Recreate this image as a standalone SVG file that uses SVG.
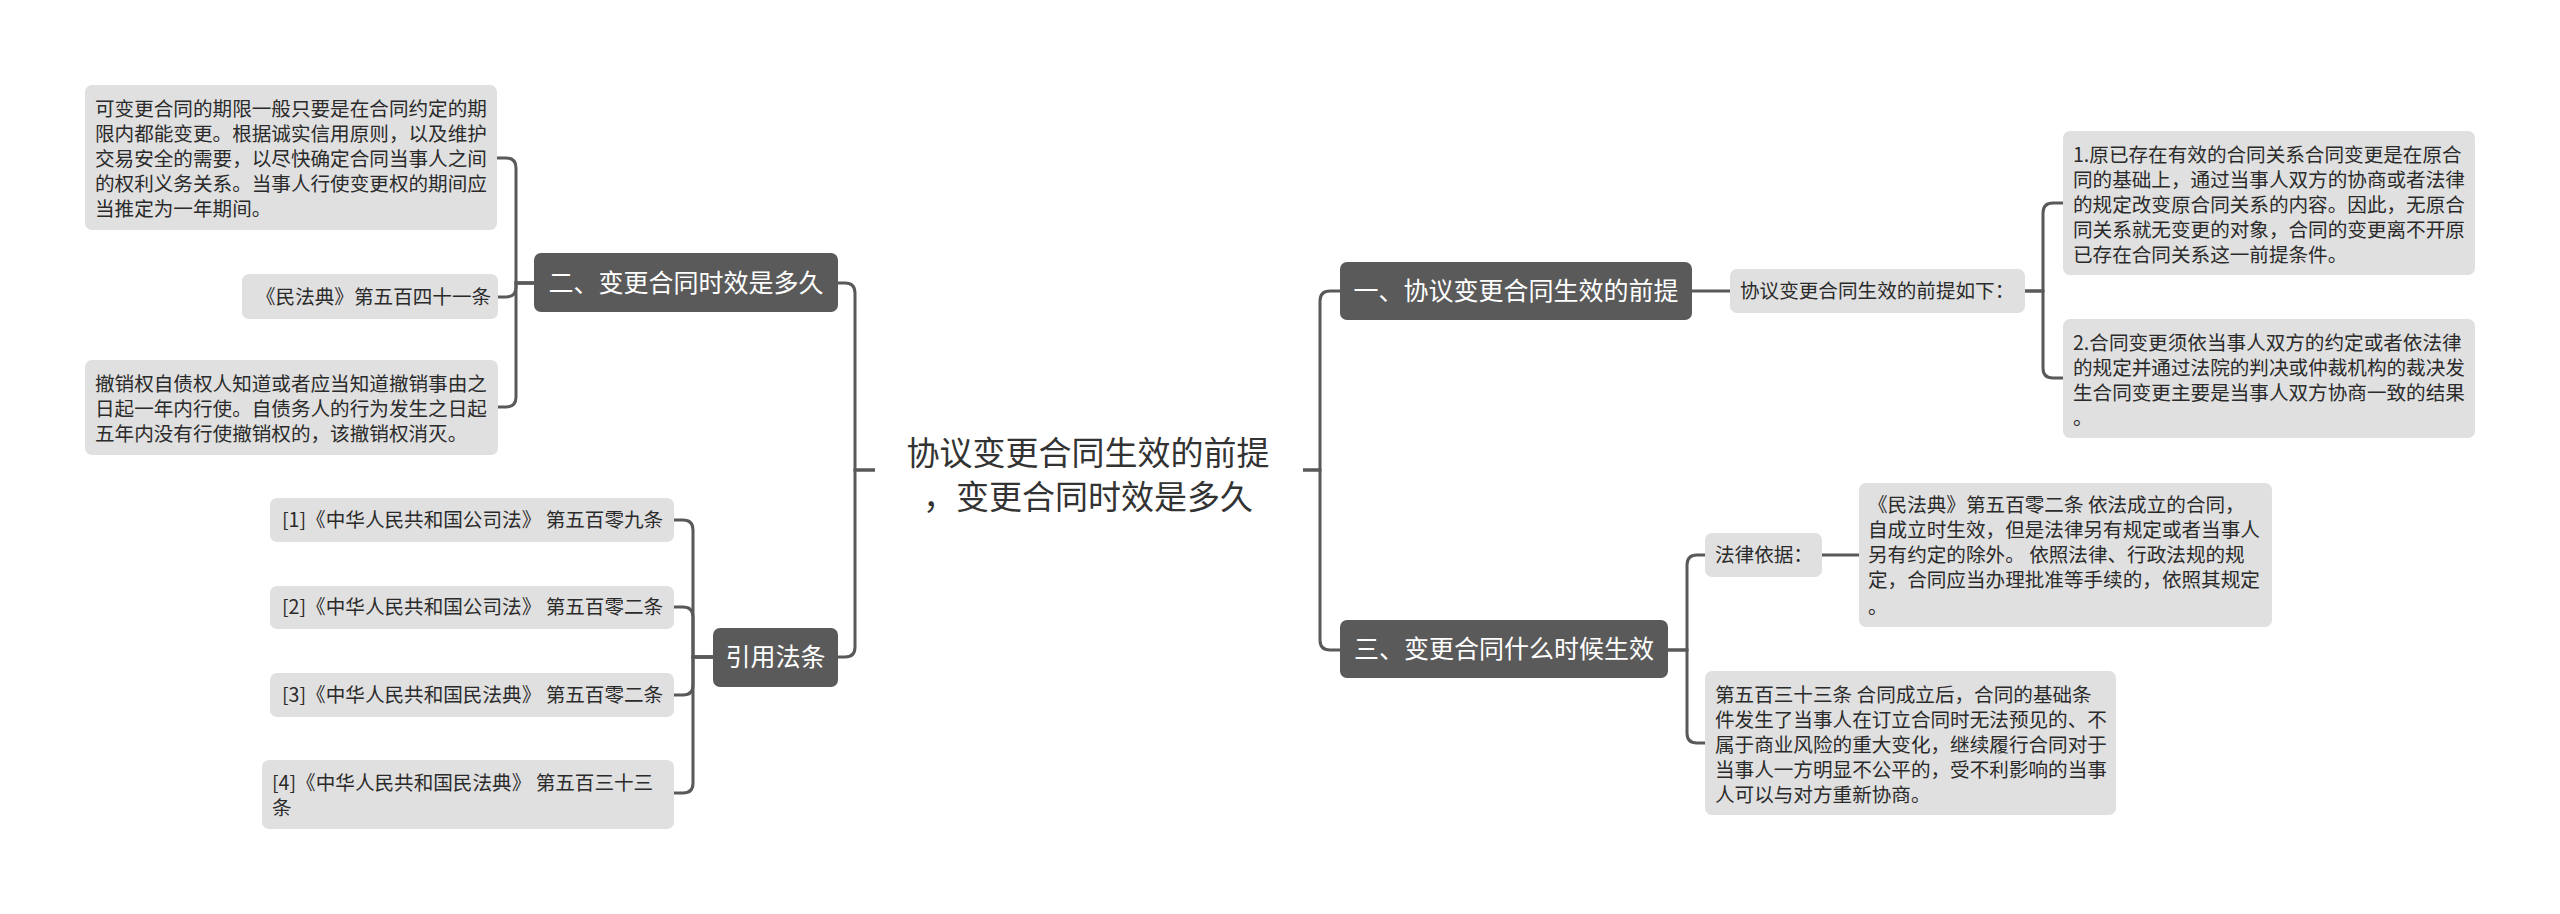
<svg xmlns="http://www.w3.org/2000/svg" width="2560" height="914" viewBox="0 0 2560 914">
<style>
.dark{fill:#5a5a5a}
.leaf{fill:#e0e0e0}
.t{font-family:"Noto Sans CJK SC","Noto Sans",sans-serif;font-size:19.6px;fill:#2b2b2b}
.w{font-family:"Noto Sans CJK SC","Noto Sans",sans-serif;font-size:25px;fill:#ffffff;text-anchor:middle}
.root{font-family:"Noto Sans CJK SC","Noto Sans",sans-serif;font-size:33px;fill:#333333;text-anchor:middle}
.c{fill:none;stroke:#595959;stroke-width:3}
</style>
<rect width="2560" height="914" fill="#ffffff"/>
<g id="connectors">
<path class="c" d="M875,470 H855 V293 Q855,283 845,283 H838"/>
<path class="c" d="M875,470 H855 V647 Q855,657 845,657 H838"/>
<path class="c" d="M534,283 H516 V168 Q516,158 506,158 H497"/>
<path class="c" d="M534,283 H516 V287 Q516,297 506,297 H498"/>
<path class="c" d="M534,283 H516 V397 Q516,407 506,407 H498"/>
<path class="c" d="M713,657 H693 V530 Q693,520 683,520 H674"/>
<path class="c" d="M713,657 H693 V617 Q693,607 683,607 H674"/>
<path class="c" d="M713,657 H693 V685 Q693,695 683,695 H674"/>
<path class="c" d="M713,657 H693 V783 Q693,793 683,793 H674"/>
<path class="c" d="M1303,470 H1320 V301 Q1320,291 1330,291 H1340"/>
<path class="c" d="M1303,470 H1320 V640 Q1320,650 1330,650 H1340"/>
<path class="c" d="M1692,291 H1730"/>
<path class="c" d="M2025,291 H2043 V213 Q2043,203 2053,203 H2063"/>
<path class="c" d="M2025,291 H2043 V368 Q2043,378 2053,378 H2063"/>
<path class="c" d="M1668,650 H1687 V565 Q1687,555 1697,555 H1705"/>
<path class="c" d="M1668,650 H1687 V733 Q1687,743 1697,743 H1705"/>
<path class="c" d="M1822,555 H1859"/>
</g>
<g id="root">
<text class="root" x="1088" y="465">协议变更合同生效的前提</text>
<text class="root" x="1088" y="509">，变更合同时效是多久</text>
</g>
<g id="n2">
<rect class="dark" x="534" y="253" width="304" height="59" rx="7"/>
<text class="w" x="686" y="292">二、变更合同时效是多久</text>
</g>
<g id="n2a">
<rect class="leaf" x="85" y="85" width="412" height="145" rx="7"/>
<text class="t" x="95" y="116">可变更合同的期限一般只要是在合同约定的期</text>
<text class="t" x="95" y="141">限内都能变更。根据诚实信用原则，以及维护</text>
<text class="t" x="95" y="166">交易安全的需要，以尽快确定合同当事人之间</text>
<text class="t" x="95" y="191">的权利义务关系。当事人行使变更权的期间应</text>
<text class="t" x="95" y="216">当推定为一年期间。</text>
</g>
<g id="n2b">
<rect class="leaf" x="242" y="274" width="256" height="45" rx="7"/>
<text class="t" x="256" y="304">《民法典》第五百四十一条</text>
</g>
<g id="n2c">
<rect class="leaf" x="85" y="360" width="413" height="95" rx="7"/>
<text class="t" x="95" y="391">撤销权自债权人知道或者应当知道撤销事由之</text>
<text class="t" x="95" y="416">日起一年内行使。自债务人的行为发生之日起</text>
<text class="t" x="95" y="441">五年内没有行使撤销权的，该撤销权消灭。</text>
</g>
<g id="nref">
<rect class="dark" x="713" y="628" width="125" height="59" rx="7"/>
<text class="w" x="775.5" y="666">引用法条</text>
</g>
<g id="ref1">
<rect class="leaf" x="270" y="498" width="404" height="44" rx="7"/>
<text class="t" x="282" y="527">[1]《中华人民共和国公司法》 第五百零九条</text>
</g>
<g id="ref2">
<rect class="leaf" x="270" y="586" width="404" height="43" rx="7"/>
<text class="t" x="282" y="614">[2]《中华人民共和国公司法》 第五百零二条</text>
</g>
<g id="ref3">
<rect class="leaf" x="270" y="673" width="404" height="44" rx="7"/>
<text class="t" x="282" y="702">[3]《中华人民共和国民法典》 第五百零二条</text>
</g>
<g id="ref4">
<rect class="leaf" x="262" y="760" width="412" height="69" rx="7"/>
<text class="t" x="272" y="790">[4]《中华人民共和国民法典》 第五百三十三</text>
<text class="t" x="272" y="815">条</text>
</g>
<g id="n1">
<rect class="dark" x="1340" y="262" width="352" height="58" rx="7"/>
<text class="w" x="1516" y="300">一、协议变更合同生效的前提</text>
</g>
<g id="n1a">
<rect class="leaf" x="1730" y="269" width="295" height="44" rx="7"/>
<text class="t" x="1740" y="298">协议变更合同生效的前提如下：</text>
</g>
<g id="n1b">
<rect class="leaf" x="2063" y="131" width="412" height="144" rx="7"/>
<text class="t" x="2073" y="162">1.原已存在有效的合同关系合同变更是在原合</text>
<text class="t" x="2073" y="187">同的基础上，通过当事人双方的协商或者法律</text>
<text class="t" x="2073" y="212">的规定改变原合同关系的内容。因此，无原合</text>
<text class="t" x="2073" y="237">同关系就无变更的对象，合同的变更离不开原</text>
<text class="t" x="2073" y="262">已存在合同关系这一前提条件。</text>
</g>
<g id="n1c">
<rect class="leaf" x="2063" y="319" width="412" height="119" rx="7"/>
<text class="t" x="2073" y="350">2.合同变更须依当事人双方的约定或者依法律</text>
<text class="t" x="2073" y="375">的规定并通过法院的判决或仲裁机构的裁决发</text>
<text class="t" x="2073" y="400">生合同变更主要是当事人双方协商一致的结果</text>
<text class="t" x="2073" y="425">。</text>
</g>
<g id="n3">
<rect class="dark" x="1340" y="620" width="328" height="58" rx="7"/>
<text class="w" x="1504" y="658">三、变更合同什么时候生效</text>
</g>
<g id="n3a">
<rect class="leaf" x="1705" y="533" width="117" height="44" rx="7"/>
<text class="t" x="1715" y="562">法律依据：</text>
</g>
<g id="n3a1">
<rect class="leaf" x="1859" y="483" width="413" height="144" rx="7"/>
<text class="t" x="1868" y="512">《民法典》第五百零二条 依法成立的合同，</text>
<text class="t" x="1868" y="537">自成立时生效，但是法律另有规定或者当事人</text>
<text class="t" x="1868" y="562">另有约定的除外。 依照法律、行政法规的规</text>
<text class="t" x="1868" y="587">定，合同应当办理批准等手续的，依照其规定</text>
<text class="t" x="1868" y="614">。</text>
</g>
<g id="n3b">
<rect class="leaf" x="1705" y="671" width="411" height="144" rx="7"/>
<text class="t" x="1715" y="702">第五百三十三条 合同成立后，合同的基础条</text>
<text class="t" x="1715" y="727">件发生了当事人在订立合同时无法预见的、不</text>
<text class="t" x="1715" y="752">属于商业风险的重大变化，继续履行合同对于</text>
<text class="t" x="1715" y="777">当事人一方明显不公平的，受不利影响的当事</text>
<text class="t" x="1715" y="802">人可以与对方重新协商。</text>
</g>
</svg>
